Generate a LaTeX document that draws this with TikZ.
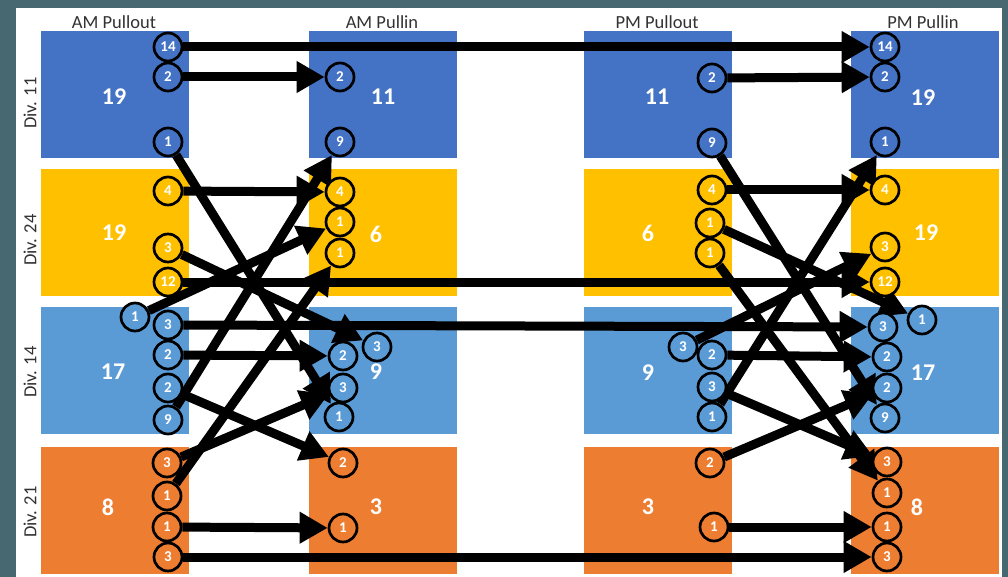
\documentclass[tikz,border=0pt]{standalone}
\usepackage{fontspec}
\setmainfont{Carlito}
\usetikzlibrary{arrows.meta}
\pgfdeclarelayer{boxlayer}
\pgfdeclarelayer{arrowlayer}
\pgfsetlayers{boxlayer,arrowlayer,main}
\definecolor{bgslate}{RGB}{71,104,112}
\definecolor{cblue}{RGB}{68,114,196}
\definecolor{cyellow}{RGB}{255,192,0}
\definecolor{clblue}{RGB}{91,155,213}
\definecolor{corange}{RGB}{237,125,49}
\definecolor{ctitle}{RGB}{50,50,50}
\begin{document}
\begin{tikzpicture}[x=1pt,y=-1pt,
  box/.style={rectangle, draw=none, minimum width=148pt, minimum height=127pt, inner sep=0pt},
  boxnum/.style={text=white, font=\fontsize{24}{24}\selectfont\bfseries, inner sep=0pt},
  title/.style={text=ctitle, font=\fontsize{18.5}{18.5}\selectfont, inner sep=0pt},
  divlab/.style={text=ctitle, font=\fontsize{18.5}{18.5}\selectfont, rotate=90, inner sep=0pt},
  cnode/.style={circle, draw=black, line width=2.7pt, minimum size=28pt, inner sep=0pt, text=white, font=\fontsize{15}{15}\selectfont\bfseries},
  cb/.style={cnode, fill=cblue},
  cy/.style={cnode, fill=cyellow},
  cl/.style={cnode, fill=clblue},
  co/.style={cnode, fill=corange},
  arr/.style={line width=9pt, -{Triangle[length=28pt,width=30pt]}}
]
\useasboundingbox (0,0) rectangle (1008,577);
\begin{pgfonlayer}{boxlayer}
\fill[bgslate] (0,0) rectangle (1008,577);
\fill[white] (16,8) rectangle (1002,577);
% boxes
\node[box, fill=cblue] (ao1) at (115,95) {};
\node[box, fill=cyellow] (ao2) at (115,232.5) {};
\node[box, fill=clblue] (ao3) at (115,370.5) {};
\node[box, fill=corange] (ao4) at (115,510) {};
\node[box, fill=cblue] (ai1) at (383,95) {};
\node[box, fill=cyellow] (ai2) at (383,232.5) {};
\node[box, fill=clblue] (ai3) at (383,370.5) {};
\node[box, fill=corange] (ai4) at (383,510) {};
\node[box, fill=cblue] (po1) at (657.5,95) {};
\node[box, fill=cyellow] (po2) at (657.5,232.5) {};
\node[box, fill=clblue] (po3) at (657.5,370.5) {};
\node[box, fill=corange] (po4) at (657.5,510) {};
\node[box, fill=cblue] (pi1) at (925,95) {};
\node[box, fill=cyellow] (pi2) at (925,232.5) {};
\node[box, fill=clblue] (pi3) at (925,370.5) {};
\node[box, fill=corange] (pi4) at (925,510) {};
\end{pgfonlayer}
% titles
\node[title] (t1) at (114,22) {AM Pullout};
\node[title] (t2) at (382,22) {AM Pullin};
\node[title] (t3) at (657,22) {PM Pullout};
\node[title] (t4) at (923,22) {PM Pullin};
\node[divlab] (dv1) at (30,103) {Div. 11};
\node[divlab] (dv2) at (30,240) {Div. 24};
\node[divlab] (dv3) at (30,372) {Div. 14};
\node[divlab] (dv4) at (30,512) {Div. 21};
% box numbers
\node[boxnum] (n1) at (114,97) {19};
\node[boxnum] (n2) at (114,233) {19};
\node[boxnum] (n3) at (113,372) {17};
\node[boxnum] (n4) at (108,507) {8};
\node[boxnum] (n5) at (383,97) {11};
\node[boxnum] (n6) at (376,234) {6};
\node[boxnum] (n7) at (376,372) {9};
\node[boxnum] (n8) at (376,507) {3};
\node[boxnum] (n9) at (657,97) {11};
\node[boxnum] (n10) at (648,233) {6};
\node[boxnum] (n11) at (648,373) {9};
\node[boxnum] (n12) at (648,507) {3};
\node[boxnum] (n13) at (923,98) {19};
\node[boxnum] (n14) at (926,233) {19};
\node[boxnum] (n15) at (923,373) {17};
\node[boxnum] (n16) at (917,507) {8};
% AM Pullout circles
\node[cb] (a14) at (168,47) {14};
\node[cb] (a2) at (168,77) {2};
\node[cb] (a1) at (168,142) {1};
\node[cy] (a4) at (168,191) {4};
\node[cy] (a3y) at (168,248) {3};
\node[cy] (a12) at (168,282) {12};
\node[cl] (a1b) at (135,317) {1};
\node[cl] (a3b) at (168,325) {3};
\node[cl] (a2b) at (168,355) {2};
\node[cl] (a2c) at (168,388) {2};
\node[cl] (a9) at (168,420) {9};
\node[co] (a3o) at (167,463) {3};
\node[co] (a1o) at (167,496) {1};
\node[co] (a1p) at (167,527) {1};
\node[co] (a3p) at (168,557) {3};
% AM Pullin circles
\node[cb] (b2) at (340,77) {2};
\node[cb] (b9) at (340,142) {9};
\node[cy] (b4) at (340,192) {4};
\node[cy] (b1) at (340,222) {1};
\node[cy] (b1y) at (340,253) {1};
\node[cl] (b3x) at (377,347) {3};
\node[cl] (b2b) at (343,356) {2};
\node[cl] (b3b) at (343,388) {3};
\node[cl] (b1b) at (339,417) {1};
\node[co] (b2o) at (343,463) {2};
\node[co] (b1o) at (343,528) {1};
% PM Pullout circles
\node[cb] (c2) at (712,78) {2};
\node[cb] (c9) at (712,143) {9};
\node[cy] (c4) at (712,190) {4};
\node[cy] (c1) at (710,223) {1};
\node[cy] (c1y) at (710,253) {1};
\node[cl] (c3x) at (683,347) {3};
\node[cl] (c2b) at (712,355) {2};
\node[cl] (c3b) at (712,387) {3};
\node[cl] (c1b) at (712,417) {1};
\node[co] (c2o) at (710,463) {2};
\node[co] (c1o) at (714,527) {1};
% PM Pullin circles
\node[cb] (d14) at (885,47) {14};
\node[cb] (d2) at (885,77) {2};
\node[cb] (d1) at (885,142) {1};
\node[cy] (d4) at (885,190) {4};
\node[cy] (d3y) at (885,247) {3};
\node[cy] (d12) at (885,282) {12};
\node[cl] (d1x) at (922,320) {1};
\node[cl] (d3b) at (883,327) {3};
\node[cl] (d2b) at (887,357) {2};
\node[cl] (d2c) at (887,388) {2};
\node[cl] (d9) at (885,418) {9};
\node[co] (d3o) at (887,462) {3};
\node[co] (d1o) at (887,493) {1};
\node[co] (d1p) at (887,527) {1};
\node[co] (d3p) at (887,557) {3};
% arrows
\begin{pgfonlayer}{arrowlayer}
\draw[arr] (a14) -- (d14);
\draw[arr] (a12) -- (d12);
\draw[arr] (a3b) -- (d3b);
\draw[arr] (a3p) -- (d3p);
\draw[arr] (a2) -- (b2);
\draw[arr] (a4) -- (b4);
\draw[arr] (a2b) -- (b2b);
\draw[arr] (a1p) -- (b1o);
\draw[arr] (a1) -- (b1b);
\draw[arr] (a3y) -- (b3x);
\draw[arr] (a1b) -- (b1);
\draw[arr] (a1o) -- (b1y);
\draw[arr] (a9) -- (b9);
\draw[arr] (a2c) -- (b2o);
\draw[arr] (a3o) -- (b3b);
\draw[arr] (c2) -- (d2);
\draw[arr] (c4) -- (d4);
\draw[arr] (c2b) -- (d2b);
\draw[arr] (c1o) -- (d1p);
\draw[arr] (c9) -- (d9);
\draw[arr] (c2o) -- (d2c);
\draw[arr] (c3x) -- (d3y);
\draw[arr] (c3b) -- (d3o);
\draw[arr] (c1b) -- (d1);
\draw[arr] (c1) -- (d1x);
\draw[arr] (c1y) -- (d1o);
\end{pgfonlayer}
\end{tikzpicture}
\end{document}
